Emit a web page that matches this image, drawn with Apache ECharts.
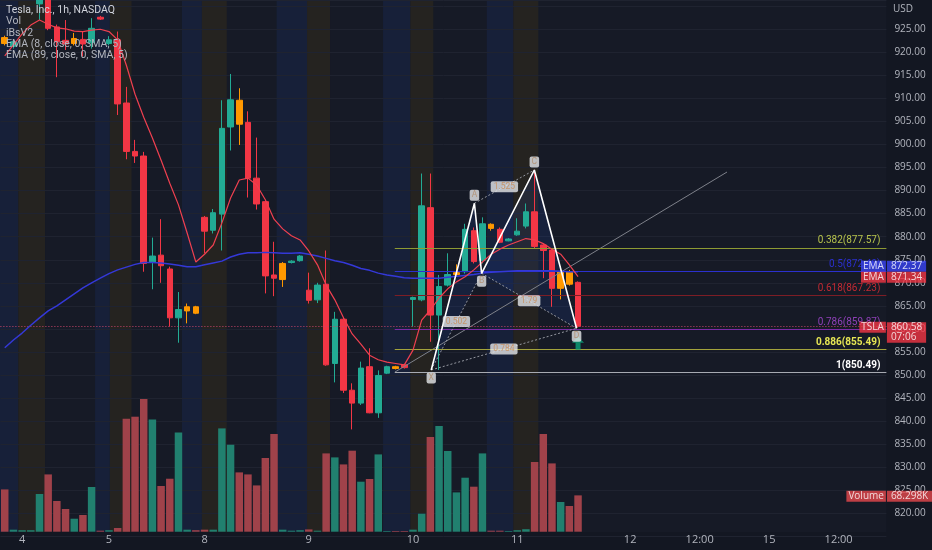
<!DOCTYPE html>
<html><head><meta charset="utf-8">
<script src="https://cdn.jsdelivr.net/npm/echarts@6/dist/echarts.min.js"></script>
<style>html,body{margin:0;padding:0;background:#131722;}#c{width:932px;height:550px;}</style>
</head><body><div id="c"></div><script>
// ---------- data ----------
const openP  = [923.2,921.3,932,934,930.5,935,925.5,922.6,921.9,922.8,
  922.1,927.6,921.9,922.7,909.0,898.5,897.5,874.5,876.0,873.0,
  862.4,863.9,864.8,884.2,881.4,884.9,903.8,909.6,904.8,892.7,
  887.6,871.7,870.7,874.4,874.8,868.4,866.3,869.7,852.5,862.1,
  846.7,843.9,851.8,841.8,850.4,851.8,852.2,866.4,866.3,886.3,
  863.0,869.5,871.8,872.4,881.3,874.9,882.7,881.6,879.1,880.4,
  882.3,885.4,878.2,877.1,868.8,872.3,870.1];
const closeP = [921.9,922.3,934,936,935,925.2,922.3,921.8,923.0,921.8,
  925.2,927.2,922.7,908.8,898.5,897.5,874.2,875.8,873.7,862.4,
  864.2,864.8,863.4,881.2,885.2,903.5,909.7,904.4,892.7,887.1,
  871.5,871.0,874.2,874.7,875.8,866.2,869.5,852.2,862.1,846.7,
  843.9,851.5,841.8,849.9,851.8,851.4,851.6,866.8,886.7,863.0,
  869.2,871.8,872.2,881.6,874.6,882.8,881.8,878.8,879.5,881.2,
  885.4,877.9,877.0,868.8,872.3,869.7,860.58];
const lowP   = [921.5,920.8,931.8,932,927,924.8,914.6,920.5,921.5,919.1,
  920.8,927.0,921.5,906.4,896.8,896.0,872.4,868.6,870.0,860.5,
  857.0,861.2,863.2,876.4,880.7,877.0,898.7,899.9,888.5,885.9,
  867.7,867.1,869.1,874.2,874.6,865.5,865.6,852.0,848.4,846.1,
  838.2,843.5,841.7,840.7,850.2,851.2,851.4,860.5,866.0,857.2,
  851.1,869.2,871.6,872.0,874.2,874.2,881.3,878.6,879.0,880.2,
  881.8,877.5,871.0,864.8,866.4,869.4,860.3];
const highP  = [923.6,922.4,935,937,937,936,926,927,924.2,924.5,
  927.4,927.9,923.5,924.5,912.5,901.0,898.4,879.8,883.8,873.5,
  868.0,865.5,865.0,884.5,886.0,909.6,915.3,912.2,907.2,901.5,
  887.8,878.9,874.5,874.9,876.0,872.2,870.0,877.0,863.7,862.5,
  848.2,852.9,855.8,851.0,852.0,852.0,852.4,867.0,893.7,893.7,
  871.7,876.4,874.0,882.8,882.0,884.2,882.9,882.0,879.7,884.0,
  887.2,894.5,878.4,877.3,873.6,872.8,870.3];
const orangeIdx = [0,8,21,22,27,32,45,52,56,64,65];
const volumeK = [79.5,3.8,2.8,2.8,70.9,107.7,57.7,42.7,24.4,31.4,
  84.0,1.9,2.8,7.0,212.4,216.2,249.5,211.1,85.9,99.6,
  186.7,3.8,2.8,3.8,3.8,194.2,163.6,111.5,107.7,87.0,
  138.6,183.7,3.8,1.9,2.8,4.3,1.9,147.2,139.7,126.5,
  152.3,94.0,99.1,145.3,1.3,1.3,1.3,3.8,33.8,178.0,
  198.7,151.7,73.9,101.5,84.6,147.2,1.9,1.9,1.3,2.8,
  4.7,131.0,183.7,128.4,55.8,48.3,68.298];
const ema8 = [919.2,921.6,924.0,925.9,927.0,926.1,925.3,925.1,924.6,924.5,
  924.8,925.0,924.5,922.7,917.2,910.9,905.9,901.4,896.6,891.6,
  886.9,880.8,874.5,876.2,878.2,883.0,888.4,892.3,892.7,891.2,
  888.0,883.8,881.7,880.2,879.3,876.9,873.9,869.5,866.3,862.4,
  858.9,856.7,854.3,853.3,852.8,852.5,852.2,855.4,861.9,864.1,
  866.7,868.7,870.2,871.3,872.8,874.5,876.2,877.3,878.2,878.9,
  879.6,879.3,878.5,877.3,876.2,873.9,871.34];
const ema89 = [855.9,857.6,859.1,860.8,862.4,863.9,865.0,866.3,867.6,868.9,
  870.0,871.0,872.0,872.8,873.4,874.0,874.4,874.4,874.3,874.1,
  873.8,873.5,873.5,873.9,874.3,874.7,875.6,876.2,876.5,876.5,
  876.6,876.5,876.4,876.4,876.5,876.2,875.8,875.3,874.8,874.4,
  873.8,873.1,872.7,872.1,871.7,871.4,871.1,871.0,871.0,871.0,
  871.0,871.2,871.4,871.6,871.8,872.1,872.3,872.4,872.5,872.6,
  872.6,872.6,872.6,872.6,872.5,872.4,872.37];
const slotCount = 102;
const tickIndex = [2,12,23,35,47,59,72,80,88,96];
const tickText  = ['4','5','8','9','10','11','12','12:00','15','12:00'];
const blueStripes  = [[-0.6,1.57],[10.4,12.1],[20.4,22.7],[31.3,34.8],[43.55,46.7],[55.5,58.55]];
const brownStripes = [[1.57,4.64],[12.1,14.6],[22.7,25.56],[34.8,37.45],[46.7,49.34],[58.55,61.43]];
const fibRatios = ['0.382','0.5','0.618','0.786','0.886','1'];
const fibPrices = [877.57,872.40,867.23,859.87,855.49,850.49];
const fibLineColors = ['#8e9a33','#2b30cf','#7d1d25','#7b2ca6','#a3a33c','#a7aab2'];
const fibTextColors = ['#b7c34c','#2b30cf','#c22a33','#8f40b8','#e6e654','#ffffff'];
const fibStart = 44.9;
const patternNames = ['X','A','B','C','D'];
const patternIdx   = [49.1,54.07,54.9,60.97,65.83];
const patternPrice = [851.1,887.25,872.06,894.47,860.13];
const ratioPairs = [[0,2],[1,3],[2,4],[0,4]];
const ratioText  = ['0.502','1.525','1.79','0.784'];
const trendIdx = [44.93,83.15];
const trendPrice = [850.65,894.03];
const arrowPoint = [66,856.9];
const lastPrice = 860.58, lastTime = '07:06';
const emaBlueLast = 872.37, emaRedLast = 871.34, lastVolumeK = 68.298, lastVolume = '68.298K';

// ---------- build ----------
const TEAL='#22ab94', RED='#f23645', ORANGE='#ff9800', FONT='Roboto';
const cats = Array.from({length:slotCount},(_,i)=>{const k=tickIndex.indexOf(i);return k>=0?tickText[k]:'';});
const candles = openP.map((o,i)=>{
  const d={value:[o,closeP[i],lowP[i],highP[i]]};
  if(orangeIdx.includes(i)) d.itemStyle={color:ORANGE,color0:ORANGE,borderColor:ORANGE,borderColor0:ORANGE};
  return d;
});
const vols = volumeK.map((v,i)=>({value:v,itemStyle:{color: closeP[i]>=openP[i]?'#21806f':'#a0424a'}}));
const pts = patternIdx.map((x,i)=>[x,patternPrice[i]]);

const pxPerUnit=4.61, gridH=536.35;
const yBot=815, yTop=850+375/pxPerUnit, plotBottomPrice=815.94;
const kPerPx=1.88, volZeroY=531.7;
const vMin=-(gridH-volZeroY)*kPerPx, vMax=vMin+gridH*kPerPx;

function stripeSeries(list,color,z){
  return {type:'custom',xAxisIndex:1,yAxisIndex:0,z:z,silent:true,
    data:list, renderItem:(p,api)=>{
      const a=api.coord([api.value(0),yTop]), b=api.coord([api.value(1),plotBottomPrice]);
      return {type:'rect',shape:{x:a[0],y:a[1],width:b[0]-a[0],height:b[1]-a[1]},style:{fill:color}};
    }};
}
function tag(xAxisIndex,yAxisIndex,val,name,num,color,offY,numLines){
  return [{type:'scatter',xAxisIndex,yAxisIndex,z:20,silent:true,symbolSize:1,itemStyle:{color:'transparent'},
    data:[[101.5,val]],label:{show:true,position:'left',distance:0,offset:[0,offY],formatter:name,
      backgroundColor:color,color:'#fff',fontSize:10,fontFamily:'Open Sans',lineHeight:11,padding:[0,2]}},
   {type:'scatter',xAxisIndex,yAxisIndex,z:20,silent:true,symbolSize:1,itemStyle:{color:'transparent'},
    data:[[101.5,val]],label:{show:true,position:'right',distance:0,offset:[0,offY+(numLines>1?5.2:0)],formatter:num,
      backgroundColor:color,color:'#fff',fontSize:10,fontFamily:'Open Sans',lineHeight:numLines>1?10.3:11,padding:[0,4]}}];
}

const fibMark = fibPrices.map((p,i)=>[
  {coord:[fibStart,p],lineStyle:{color:fibLineColors[i],width:1,type:'solid'},
   label:{show:true,position:'insideEndTop',distance:[6,2],formatter:fibRatios[i]+'('+p.toFixed(2)+')',
     color:fibTextColors[i],fontSize:10,fontFamily:FONT,fontWeight:i>=4?'bold':'normal'}},
  {coord:[101.5,p]}]);

const legendLines = ['Tesla, Inc., 1h, NASDAQ','Vol','iBsV2','EMA (8, close, 0, SMA, 5)','EMA (89, close, 0, SMA, 5)'];

const option = {
  backgroundColor:'#131722', animation:false,
  grid:{left:0.4,top:0,width:886,height:gridH},
  xAxis:[
    {type:'category',data:cats,boundaryGap:true,axisLine:{show:false},axisTick:{show:false},splitLine:{show:false},
     axisLabel:{interval:0,color:'#b2b5be',fontSize:11,fontFamily:'Open Sans',margin:3.7,verticalAlign:'middle'}},
    {type:'value',min:-0.5,max:slotCount-0.5,show:false}
  ],
  yAxis:[
    {type:'value',position:'right',min:yBot,max:yTop,interval:5,
     axisLine:{show:false},axisTick:{show:false},
     splitLine:{lineStyle:{color:'#1f2330',width:1}},
     axisLabel:{color:'#b2b5be',fontSize:10,fontFamily:'Open Sans',margin:8,showMaxLabel:false,
       formatter:v=>(v<=815||v>=930)?'':v.toFixed(2)}},
    {type:'value',min:vMin,max:vMax,show:false,splitLine:{show:false}}
  ],
  graphic:legendLines.map((t,i)=>({type:'text',z:100,left:6,top:5+i*11.3,
      style:{text:t,fill:i===0?'#d1d4dc':'#b2b5be',font:'10.5px '+FONT}}))
    .concat([{type:'text',z:100,left:893,top:4,style:{text:'USD',fill:'#b2b5be',font:'10px "Open Sans"'}}]),
  series:[
    stripeSeries([[-0.5,slotCount-0.5]],'#161a26',-2),
    stripeSeries(blueStripes,'#172039',-1),
    stripeSeries(brownStripes,'#252320',-1),
    {type:'bar',xAxisIndex:0,yAxisIndex:1,data:vols,barWidth:'86%',z:1,silent:true},
    {type:'custom',xAxisIndex:1,yAxisIndex:0,z:2,silent:true,data:[[0,0]],
     renderItem:(p,api)=>{
       const c=pts.map(q=>api.coord(q));
       return {type:'group',children:[
         {type:'polygon',shape:{points:[c[0],c[1],c[2]]},style:{fill:'rgba(41,98,255,0.10)'}},
         {type:'polygon',shape:{points:[c[2],c[3],c[4]]},style:{fill:'rgba(41,98,255,0.10)'}}]};
     }},
    {type:'candlestick',xAxisIndex:0,yAxisIndex:0,data:candles,barWidth:6,clip:true,z:3,silent:true,
     itemStyle:{color:TEAL,color0:RED,borderColor:TEAL,borderColor0:RED,borderWidth:1},
     markLine:{silent:true,symbol:'none',data:[{yAxis:lastPrice}],label:{show:false},
       lineStyle:{color:'#c9466a',type:[1,2],width:1}}},
    {type:'line',xAxisIndex:1,yAxisIndex:0,data:[],z:4,silent:true,
     markLine:{silent:true,symbol:'none',data:fibMark}},
    {type:'line',xAxisIndex:1,yAxisIndex:0,z:4,silent:true,symbol:'none',
     data:trendIdx.map((x,i)=>[x,trendPrice[i]]),lineStyle:{color:'#7e818a',width:1}},
    {type:'line',xAxisIndex:0,yAxisIndex:0,data:ema89,symbol:'none',z:5,silent:true,lineStyle:{color:'#3438d8',width:1.5}},
    {type:'line',xAxisIndex:0,yAxisIndex:0,data:ema8,symbol:'none',z:5,silent:true,lineStyle:{color:'#f04050',width:1.2}},
    ...ratioPairs.map(pr=>({type:'line',xAxisIndex:1,yAxisIndex:0,z:6,silent:true,symbol:'none',
      data:[pts[pr[0]],pts[pr[1]]],lineStyle:{color:'#9598a1',width:1,type:[2,2]}})),
    {type:'line',xAxisIndex:1,yAxisIndex:0,z:7,silent:true,symbol:'none',data:pts,lineStyle:{color:'#ffffff',width:1.6}},
    {type:'scatter',xAxisIndex:1,yAxisIndex:0,z:8,silent:true,data:[arrowPoint],
     symbol:'path://M6,0 L12,6 L8.5,6 L8.5,13 L3.5,13 L3.5,6 L0,6 Z',symbolSize:[12,13],itemStyle:{color:'#0aa37a'}},
    {type:'scatter',xAxisIndex:1,yAxisIndex:0,z:9,silent:true,symbolSize:1,itemStyle:{color:'transparent'},
     data:pts.map((q,i)=>({value:q,label:{position:(i%2===0)?'bottom':'top'}})),
     label:{show:true,distance:2,formatter:p=>patternNames[p.dataIndex],backgroundColor:'#e6e7ea',
       color:'#b08a66',fontSize:8.5,fontFamily:FONT,padding:[1,2],borderRadius:2}},
    {type:'scatter',xAxisIndex:1,yAxisIndex:0,z:9,silent:true,symbolSize:1,itemStyle:{color:'transparent'},
     data:ratioPairs.map(pr=>[(pts[pr[0]][0]+pts[pr[1]][0])/2,(pts[pr[0]][1]+pts[pr[1]][1])/2]),
     label:{show:true,position:'inside',formatter:p=>ratioText[p.dataIndex],backgroundColor:'#e6e7ea',
       color:'#c98a52',fontSize:8.5,fontFamily:FONT,padding:[1,3],borderRadius:2}},
    ...tag(1,0,emaBlueLast,'EMA',emaBlueLast.toFixed(2),'#3a44f5',-5.7,1),
    ...tag(1,0,emaRedLast,'EMA',emaRedLast.toFixed(2),'#f23645',0.6,1),
    ...tag(1,0,lastPrice,'TSLA',lastPrice.toFixed(2)+'\n'+lastTime,'#f23645',1,2),
    ...tag(1,1,lastVolumeK,'Volume',lastVolume,'#e8494e',0.8,1)
  ]
};
echarts.init(document.getElementById('c')).setOption(option);
</script></body></html>
